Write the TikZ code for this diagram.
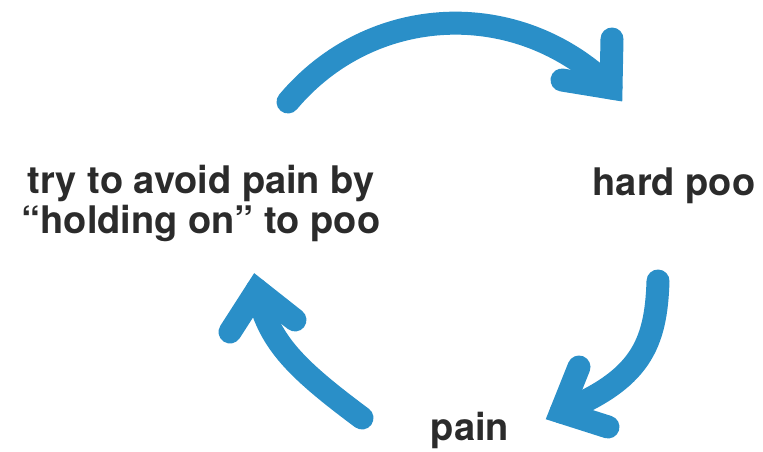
\documentclass[tikz,border=0pt]{standalone}
\usepackage{fontspec}
\setmainfont{TeX Gyre Heros}
\usetikzlibrary{positioning}
\definecolor{cycleblue}{HTML}{2A8FC8}
\definecolor{inkgray}{HTML}{2B2B2B}

\begin{document}
\begin{tikzpicture}[
  x=1pt, y=-1pt,
  stage/.style={font=\fontsize{38}{40}\selectfont\bfseries, text=inkgray, align=center, inner sep=0pt, anchor=base},
  shaft/.style={draw=cycleblue, line width=23pt, line cap=round},
  head/.style={draw=cycleblue, line width=23pt, line cap=round, line join=miter},
]
\useasboundingbox (0,0) rectangle (763,452);

% === Stages ===
\node[stage] (hold) at (201,233) {try to avoid pain by\\“holding on” to poo};
\node[stage] (hard) at (674,195) {hard poo};
\node[stage] (pain) at (470,440) {pain};

% === hold -> hard (top) ===
\coordinate (top start) at (288,102);
\coordinate (top tip) at (611,88);
\draw[shaft] (top start) .. controls (371,3) and (518,-4) .. (top tip);
\draw[head] (612,39) -- (top tip) -- (562,80);

% === hard -> pain (right) ===
\coordinate (right start) at (658,281);
\coordinate (right tip) at (561,412);
\draw[shaft] (right start) .. controls (656,345) and (640,380) .. (right tip);
\draw[head] (579,367) -- (right tip) -- (608,427);

% === pain -> hold (left) ===
\coordinate (left start) at (362,418);
\coordinate (left tip) at (257,290);
\draw[shaft] (left start) .. controls (292,366) and (268,340) .. (left tip);
\draw[head] (230,332) -- (left tip) -- (295,320);

\end{tikzpicture}
\end{document}
